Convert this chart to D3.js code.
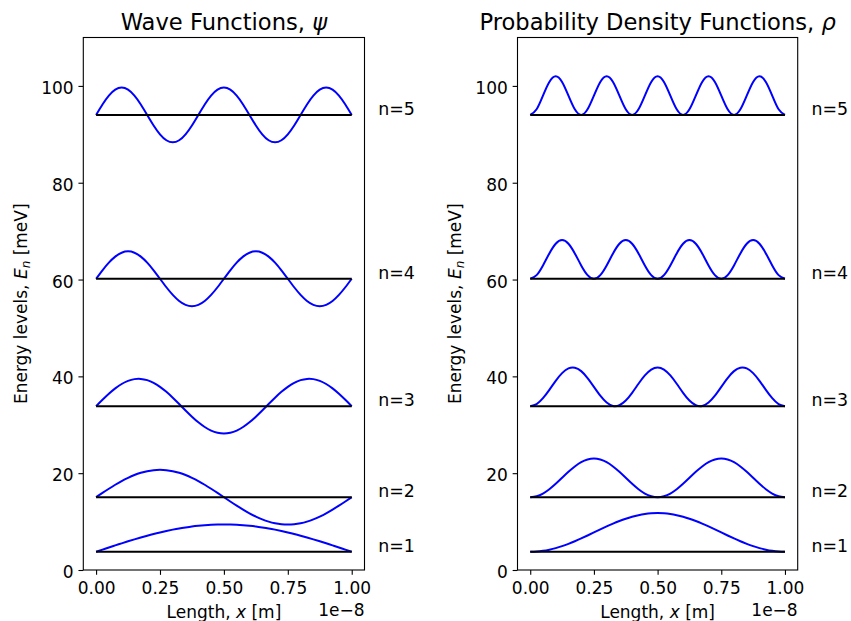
<!DOCTYPE html>
<html>
<head>
<meta charset="utf-8">
<script src="https://cdn.jsdelivr.net/npm/d3@7"></script>
<style>
  body { margin: 0; background: #fff; }
  text { font-family: "DejaVu Sans", sans-serif; fill: #000; }
</style>
</head>
<body>
<svg id="chart" width="851" height="621"></svg>
<script>
// Position along the well, in units of 1e-8 m
const positions = [0, 0.025, 0.05, 0.075, 0.1, 0.125, 0.15, 0.175, 0.2, 0.225,
  0.25, 0.275, 0.3, 0.325, 0.35, 0.375, 0.4, 0.425, 0.45, 0.475,
  0.5, 0.525, 0.55, 0.575, 0.6, 0.625, 0.65, 0.675, 0.7, 0.725,
  0.75, 0.775, 0.8, 0.825, 0.85, 0.875, 0.9, 0.925, 0.95, 0.975, 1];

// Quantum numbers and their energy levels [meV]
const levels = [1, 2, 3, 4, 5];
const energies = [3.76, 15.04, 33.84, 60.16, 94.0];

// Wave functions (scaled), drawn as offsets from each energy level
const psi1 = [0, 0.44, 0.89, 1.32, 1.75, 2.17, 2.57, 2.96, 3.33, 3.68, 4.00, 4.30, 4.58, 4.83, 5.04, 5.23, 5.38, 5.50, 5.59, 5.64, 5.66,
  5.64, 5.59, 5.50, 5.38, 5.23, 5.04, 4.83, 4.58, 4.30, 4.00, 3.68, 3.33, 2.96, 2.57, 2.17, 1.75, 1.32, 0.89, 0.44, 0];
const psi2 = [0, 0.89, 1.75, 2.57, 3.33, 4.00, 4.58, 5.04, 5.38, 5.59, 5.66, 5.59, 5.38, 5.04, 4.58, 4.00, 3.33, 2.57, 1.75, 0.89, 0,
  -0.89, -1.75, -2.57, -3.33, -4.00, -4.58, -5.04, -5.38, -5.59, -5.66, -5.59, -5.38, -5.04, -4.58, -4.00, -3.33, -2.57, -1.75, -0.89, 0];
const psi3 = [0, 1.32, 2.57, 3.68, 4.58, 5.23, 5.59, 5.64, 5.38, 4.83, 4.00, 2.96, 1.75, 0.44, -0.89, -2.17, -3.33, -4.30, -5.04, -5.50, -5.66,
  -5.50, -5.04, -4.30, -3.33, -2.17, -0.89, 0.44, 1.75, 2.96, 4.00, 4.83, 5.38, 5.64, 5.59, 5.23, 4.58, 3.68, 2.57, 1.32, 0];
const psi4 = [0, 1.75, 3.33, 4.58, 5.38, 5.66, 5.38, 4.58, 3.33, 1.75, 0, -1.75, -3.33, -4.58, -5.38, -5.66, -5.38, -4.58, -3.33, -1.75, 0,
  1.75, 3.33, 4.58, 5.38, 5.66, 5.38, 4.58, 3.33, 1.75, 0, -1.75, -3.33, -4.58, -5.38, -5.66, -5.38, -4.58, -3.33, -1.75, 0];
const psi5 = [0, 2.17, 4.00, 5.23, 5.66, 5.23, 4.00, 2.17, 0, -2.17, -4.00, -5.23, -5.66, -5.23, -4.00, -2.17,
  0, 2.17, 4.00, 5.23, 5.66, 5.23, 4.00, 2.17, 0, -2.17, -4.00, -5.23, -5.66, -5.23, -4.00, -2.17,
  0, 2.17, 4.00, 5.23, 5.66, 5.23, 4.00, 2.17, 0];

// Probability densities (scaled), drawn as offsets from each energy level
const rho1 = [0, 0.05, 0.20, 0.44, 0.76, 1.17, 1.65, 2.18, 2.76, 3.37, 4.00, 4.63, 5.24, 5.82, 6.35, 6.83, 7.24, 7.56, 7.80, 7.95, 8.00,
  7.95, 7.80, 7.56, 7.24, 6.83, 6.35, 5.82, 5.24, 4.63, 4.00, 3.37, 2.76, 2.18, 1.65, 1.17, 0.76, 0.44, 0.20, 0.05, 0];
const rho2 = [0, 0.20, 0.76, 1.65, 2.76, 4.00, 5.24, 6.35, 7.24, 7.80, 8.00, 7.80, 7.24, 6.35, 5.24, 4.00, 2.76, 1.65, 0.76, 0.20, 0,
  0.20, 0.76, 1.65, 2.76, 4.00, 5.24, 6.35, 7.24, 7.80, 8.00, 7.80, 7.24, 6.35, 5.24, 4.00, 2.76, 1.65, 0.76, 0.20, 0];
const rho3 = [0, 0.44, 1.65, 3.37, 5.24, 6.83, 7.80, 7.95, 7.24, 5.82, 4.00, 2.18, 0.76, 0.05, 0.20, 1.17, 2.76, 4.63, 6.35, 7.56, 8.00,
  7.56, 6.35, 4.63, 2.76, 1.17, 0.20, 0.05, 0.76, 2.18, 4.00, 5.82, 7.24, 7.95, 7.80, 6.83, 5.24, 3.37, 1.65, 0.44, 0];
const rho4 = [0, 0.76, 2.76, 5.24, 7.24, 8.00, 7.24, 5.24, 2.76, 0.76, 0, 0.76, 2.76, 5.24, 7.24, 8.00, 7.24, 5.24, 2.76, 0.76, 0,
  0.76, 2.76, 5.24, 7.24, 8.00, 7.24, 5.24, 2.76, 0.76, 0, 0.76, 2.76, 5.24, 7.24, 8.00, 7.24, 5.24, 2.76, 0.76, 0];
const rho5 = [0, 1.17, 4.00, 6.83, 8.00, 6.83, 4.00, 1.17, 0, 1.17, 4.00, 6.83, 8.00, 6.83, 4.00, 1.17,
  0, 1.17, 4.00, 6.83, 8.00, 6.83, 4.00, 1.17, 0, 1.17, 4.00, 6.83, 8.00, 6.83, 4.00, 1.17,
  0, 1.17, 4.00, 6.83, 8.00, 6.83, 4.00, 1.17, 0];

const psiSeries = [psi1, psi2, psi3, psi4, psi5];
const rhoSeries = [rho1, rho2, rho3, rho4, rho5];

// Axis settings
const xTicks = [0, 0.25, 0.5, 0.75, 1];
const yTicks = [0, 20, 40, 60, 80, 100];
const xDomain = [-0.05, 1.05];
const yDomain = [0, 110];
const labelX = 1.1;

const svg = d3.select("#chart");
const plotTop = 37.5, plotBottom = 570;
const tickLen = 4.86;
const fs = 17;

const panels = [
  { left: 83.3, right: 364.5, title: "Wave Functions, ", symbol: "\u03C8", series: psiSeries },
  { left: 517.5, right: 797.7, title: "Probability Density Functions, ", symbol: "\u03C1", series: rhoSeries }
];

panels.forEach(p => {
  const x = d3.scaleLinear().domain(xDomain).range([p.left, p.right]);
  const y = d3.scaleLinear().domain(yDomain).range([plotBottom, plotTop]);
  const g = svg.append("g");

  // Curves above each level
  const line = d3.line()
    .x((d, i) => x(positions[i]))
    .y(d => y(d))
    .curve(d3.curveNatural);

  p.series.forEach((vals, k) => {
    const e = energies[k];
    g.append("path")
      .attr("d", line(vals.map(v => e + v)))
      .attr("fill", "none")
      .attr("stroke", "#0000ff")
      .attr("stroke-width", 2);
  });

  // Energy level lines
  energies.forEach(e => {
    g.append("line")
      .attr("x1", x(positions[0])).attr("x2", x(positions[positions.length - 1]))
      .attr("y1", y(e)).attr("y2", y(e))
      .attr("stroke", "#000").attr("stroke-width", 2);
  });

  // Level labels outside the axes
  levels.forEach((n, k) => {
    g.append("text")
      .attr("x", x(labelX) + 1)
      .attr("y", y(energies[k]))
      .attr("font-size", 17.4)
      .text("n=" + n);
  });

  // Axes
  const xAxis = g.append("g")
    .attr("transform", `translate(0,${plotBottom})`)
    .call(d3.axisBottom(x).tickValues(xTicks).tickFormat(d3.format(".2f"))
      .tickSize(tickLen).tickSizeOuter(0).tickPadding(tickLen));
  xAxis.select(".domain").remove();
  xAxis.selectAll("line").attr("stroke", "#000").attr("stroke-width", 1.1);
  xAxis.selectAll("text").attr("font-size", fs).attr("font-family", "DejaVu Sans")
    .attr("y", 23.5).attr("dy", null).attr("fill", "#000");

  const yAxis = g.append("g")
    .attr("transform", `translate(${p.left},0)`)
    .call(d3.axisLeft(y).tickValues(yTicks).tickFormat(d3.format("d"))
      .tickSize(tickLen).tickSizeOuter(0).tickPadding(tickLen));
  yAxis.select(".domain").remove();
  yAxis.selectAll("line").attr("stroke", "#000").attr("stroke-width", 1.1);
  yAxis.selectAll("text").attr("font-size", fs).attr("font-family", "DejaVu Sans")
    .attr("dy", "0.44em").attr("fill", "#000");

  // Axes frame
  g.append("rect")
    .attr("x", p.left).attr("y", plotTop)
    .attr("width", p.right - p.left).attr("height", plotBottom - plotTop)
    .attr("fill", "none").attr("stroke", "#000").attr("stroke-width", 1.1);

  // Title
  const cx = (p.left + p.right) / 2;
  const t = g.append("text")
    .attr("x", cx).attr("y", 29.5)
    .attr("text-anchor", "middle")
    .attr("font-size", 22.6);
  t.append("tspan").text(p.title);
  t.append("tspan").attr("font-style", "italic").text(p.symbol);

  // X label
  const xl = g.append("text")
    .attr("x", cx).attr("y", 618)
    .attr("text-anchor", "middle")
    .attr("font-size", fs);
  xl.append("tspan").text("Length, ");
  xl.append("tspan").attr("font-style", "italic").text("x");
  xl.append("tspan").text(" [m]");

  // Offset multiplier for x
  g.append("text")
    .attr("x", p.right).attr("y", 616)
    .attr("text-anchor", "end")
    .attr("font-size", fs)
    .text("1e\u22128");

  // Y label
  const yl = g.append("text")
    .attr("transform", `translate(${p.left - 56.8},${(plotTop + plotBottom) / 2}) rotate(-90)`)
    .attr("text-anchor", "middle")
    .attr("font-size", fs);
  yl.append("tspan").text("Energy levels, ");
  yl.append("tspan").attr("font-style", "italic").text("E");
  yl.append("tspan").attr("font-style", "italic").attr("font-size", 12).attr("dy", 3.5).text("n");
  yl.append("tspan").attr("dy", -3.5).text(" [meV]");
});
</script>
</body>
</html>
